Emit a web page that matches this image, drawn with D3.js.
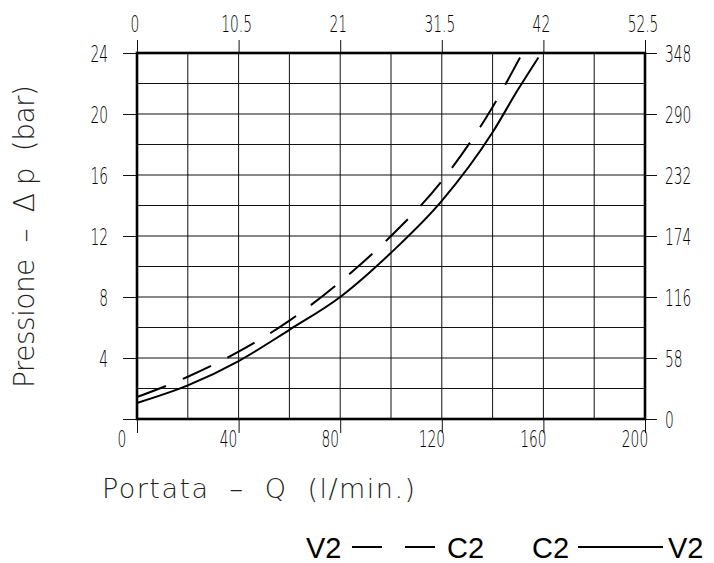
<!DOCTYPE html>
<html>
<head>
<meta charset="utf-8">
<script src="https://cdn.jsdelivr.net/npm/d3@7/dist/d3.min.js"></script>
<style>
  html, body { margin: 0; padding: 0; background: #fff; }
  svg { display: block; }
  text { white-space: pre; }
</style>
</head>
<body>
<svg id="chart" width="714" height="563"></svg>
<script>
// ---- data ----
// Flow Q (l/min) and pressure drop p (bar)
const solidQ = [0, 20, 40, 60, 80, 100, 120, 140, 150, 158];          // C2 -> V2
const solidP = [1.05, 2.2, 3.8, 5.85, 8.0, 10.9, 14.3, 18.8, 21.6, 23.7];
const dashQ  = [0, 20, 40, 60, 80, 100, 120, 140, 150.8];             // V2 -> C2
const dashP  = [1.44, 2.77, 4.41, 6.45, 9.0, 12.0, 15.6, 20.46, 23.7];

const bottomTicks = [0, 40, 80, 120, 160, 200];
const topLabels   = ["0", "10.5", "21", "31.5", "42", "52.5"];
const pTicks      = [0, 4, 8, 12, 16, 20, 24];
const leftLabels  = ["", "4", "8", "12", "16", "20", "24"];
const rightLabels = ["0", "58", "116", "174", "232", "290", "348"];
const gridQ = d3.range(0, 201, 20);
const gridP = d3.range(0, 25, 2);

const xTitle = "Portata  \u2013  Q  (l/min.)";
const yTitle = "Pressione  \u2013  \u0394 p  (bar)";

// ---- layout ----
const svg = d3.select("#chart");
const x = d3.scaleLinear().domain([0, 200]).range([137, 645]);
const y = d3.scaleLinear().domain([0, 24]).range([419, 53]);

const tickFont = "'DejaVu Sans', sans-serif";
const sx = 0.6;
function narrowText(g, tx, ty, str, anchor) {
  g.append("g").attr("transform", `translate(${tx},${ty})`)
    .append("text")
    .attr("transform", `scale(${sx},1)`)
    .attr("text-anchor", anchor)
    .attr("font-family", tickFont)
    .attr("font-weight", 200)
    .attr("font-size", 23)
    .attr("fill", "#000")
    .text(str);
}

// grid
const grid = svg.append("g");
grid.selectAll("line.v").data(gridQ).join("line")
  .attr("x1", d => x(d)).attr("x2", d => x(d))
  .attr("y1", y(0)).attr("y2", y(24))
  .attr("stroke", "#111").attr("stroke-width", 1);
grid.selectAll("line.h").data(gridP).join("line")
  .attr("y1", d => y(d)).attr("y2", d => y(d))
  .attr("x1", x(0)).attr("x2", x(200))
  .attr("stroke", "#111").attr("stroke-width", 1);

// tick marks via d3 axes
function strip(sel) {
  sel.select(".domain").remove();
  sel.selectAll(".tick line").attr("stroke", "#111").attr("stroke-width", 1);
  sel.selectAll(".tick text").remove();
}
svg.append("g").attr("transform", `translate(0,${y(0)})`)
  .call(d3.axisBottom(x).tickValues(bottomTicks).tickSize(14).tickFormat("")).call(strip);
svg.append("g").attr("transform", `translate(0,${y(24)})`)
  .call(d3.axisTop(x).tickValues(bottomTicks).tickSize(13).tickFormat("")).call(strip);
svg.append("g").attr("transform", `translate(${x(0)},0)`)
  .call(d3.axisLeft(y).tickValues(pTicks).tickSize(14).tickFormat("")).call(strip);
svg.append("g").attr("transform", `translate(${x(200)},0)`)
  .call(d3.axisRight(y).tickValues(pTicks).tickSize(12).tickFormat("")).call(strip);

// tick labels
const lab = svg.append("g");
bottomTicks.forEach(v => narrowText(lab, x(v) - (v === 0 ? 15 : 10), 447, String(v), "middle"));
bottomTicks.forEach((v, i) => narrowText(lab, x(v) - 2, 32, topLabels[i], "middle"));
pTicks.forEach((v, i) => { if (leftLabels[i]) narrowText(lab, 108, y(v) + 9, leftLabels[i], "end"); });
pTicks.forEach((v, i) => narrowText(lab, 665, y(v) + 9, rightLabels[i], "start"));

// frame
svg.append("rect")
  .attr("x", x(0)).attr("y", y(24))
  .attr("width", x(200) - x(0)).attr("height", y(0) - y(24))
  .attr("fill", "none").attr("stroke", "#000").attr("stroke-width", 2.6);

// curves
const lineGen = d3.line().x(d => x(d[0])).y(d => y(d[1])).curve(d3.curveMonotoneX);
svg.append("path")
  .datum(solidQ.map((q, i) => [q, solidP[i]]))
  .attr("d", lineGen)
  .attr("fill", "none").attr("stroke", "#000").attr("stroke-width", 2);
const dashPath = svg.append("path")
  .datum(dashQ.map((q, i) => [q, dashP[i]]))
  .attr("d", lineGen)
  .attr("fill", "none").attr("stroke", "#000").attr("stroke-width", 2);
// fit dash pattern so the curve starts and ends with a dash
{
  const L = dashPath.node().getTotalLength();
  const dash = 31;
  const n = Math.round((L - dash) / 48);
  const gap = (L - dash * (n + 1)) / n;
  dashPath.attr("stroke-dasharray", `${dash} ${gap}`);
}

// axis titles
const titleFont = "'DejaVu Sans', sans-serif";
svg.append("text")
  .attr("x", 102).attr("y", 498)
  .attr("font-family", titleFont).attr("font-weight", 200)
  .attr("font-size", 27).attr("fill", "#222")
  .attr("textLength", 313).attr("lengthAdjust", "spacing")
  .text(xTitle);
svg.append("text")
  .attr("transform", "translate(34,388) rotate(-90)")
  .attr("font-family", titleFont).attr("font-weight", 200)
  .attr("font-size", 28).attr("fill", "#222")
  .attr("textLength", 303).attr("lengthAdjust", "spacing")
  .text(yTitle);

// legend
const legFont = "'Liberation Sans', Arial, sans-serif";
const leg = svg.append("g").attr("font-family", legFont).attr("font-size", 29).attr("fill", "#000");
leg.append("text").attr("x", 306).attr("y", 558).text("V2");
leg.append("line").attr("x1", 352).attr("x2", 382).attr("y1", 547).attr("y2", 547).attr("stroke", "#000").attr("stroke-width", 2);
leg.append("line").attr("x1", 405).attr("x2", 435).attr("y1", 547).attr("y2", 547).attr("stroke", "#000").attr("stroke-width", 2);
leg.append("text").attr("x", 447).attr("y", 558).text("C2");
leg.append("text").attr("x", 532).attr("y", 558).text("C2");
leg.append("line").attr("x1", 578).attr("x2", 663).attr("y1", 547).attr("y2", 547).attr("stroke", "#000").attr("stroke-width", 2);
leg.append("text").attr("x", 668).attr("y", 558).text("V2");
</script>
</body>
</html>
